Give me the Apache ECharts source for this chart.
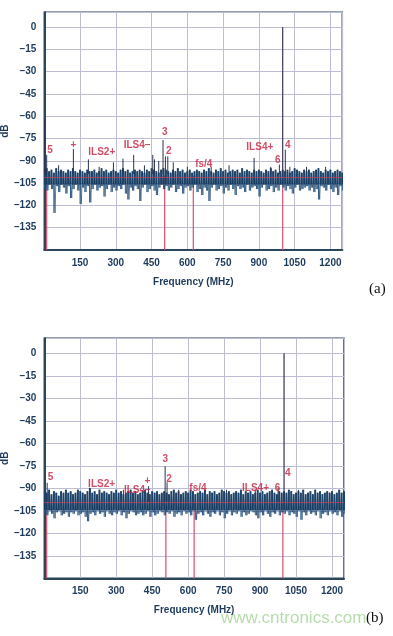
<!DOCTYPE html>
<html><head><meta charset="utf-8">
<script src="https://cdn.jsdelivr.net/npm/echarts@6/dist/echarts.min.js"></script>
<style>html,body{margin:0;padding:0;background:#fff}#c{width:393px;height:636px}</style>
</head><body><div id="c"></div>
<script>
// ---------- data ----------
var xTicks = [150, 300, 450, 600, 750, 900, 1050, 1200];
var yTicks = [0, -15, -30, -45, -60, -75, -90, -105, -120, -135];
var binWidthMHz = 10; // noise bins: 0,10,...,1250 MHz

// (a) noise floor: upper edge and lower edge of each 10 MHz bin (dB)
var noiseTopA = [
 -96,-95,-97,-96,-98,-95,-97,-96,-97,-98,
 -96,-97,-95,-97,-98,-96,-97,-98,-96,-97,
 -97,-96,-98,-97,-95,-97,-96,-98,-97,-96,
 -97,-98,-96,-95,-97,-96,-98,-97,-96,-97,
 -96,-97,-98,-96,-97,-95,-96,-97,-98,-96,
 -95,-96,-97,-98,-96,-97,-95,-97,-96,-98,
 -97,-96,-98,-97,-96,-97,-98,-96,-97,-95,
 -97,-98,-96,-97,-95,-97,-96,-98,-97,-96,
 -97,-96,-98,-95,-97,-96,-97,-98,-96,-97,
 -96,-97,-98,-96,-97,-95,-97,-96,-98,-97,
 -96,-97,-96,-98,-97,-95,-96,-97,-98,-96,
 -97,-96,-98,-97,-96,-95,-97,-98,-96,-97,
 -96,-98,-97,-96,-97,-98];
var noiseBotA = [
 -108,-110,-106,-109,-125,-107,-111,-106,-108,-112,
 -107,-115,-109,-106,-110,-119,-108,-111,-107,-118,
 -109,-106,-110,-108,-107,-114,-109,-106,-111,-108,
 -110,-107,-109,-106,-112,-116,-108,-110,-107,-109,
 -117,-108,-106,-111,-109,-107,-110,-113,-108,-106,
 -109,-107,-110,-108,-106,-111,-109,-107,-112,-108,
 -107,-110,-108,-106,-111,-109,-113,-108,-110,-117,
 -108,-106,-110,-109,-107,-112,-108,-110,-106,-109,
 -113,-107,-109,-108,-111,-106,-110,-108,-107,-109,
 -114,-108,-106,-110,-109,-107,-111,-108,-110,-106,
 -108,-110,-107,-109,-112,-108,-106,-110,-109,-108,
 -107,-110,-108,-111,-109,-116,-107,-108,-110,-106,
 -109,-111,-108,-113,-107,-110];
var coreBottomA = -106; // lower edge of the dark dense core
// (a) spurs: [MHz, peak dB]
var spursA = [[1,-62],[10,-86],[60,-93],[122,-82],[185,-89],[230,-94],[290,-91],[330,-88.5],
 [375,-86],[420,-93],[455,-86],[462,-89],[480,-90],[498,-76],[508,-87],[518,-87],[541,-91],
 [600,-94],[700,-94],[775,-93],[880,-88],[950,-94],[986,-92.5],[1011,-82.5],[1030,-94],
 [1100,-94],[1180,-94]];
var redMarksA = [10, 505, 625, 1000];
var floorLineA = -101;

// (b) noise floor
var noiseTopB = [
 -92,-93,-91,-94,-92,-93,-95,-92,-93,-91,
 -93,-92,-94,-93,-91,-92,-93,-94,-92,-90,
 -93,-92,-94,-91,-93,-92,-93,-94,-92,-93,
 -91,-93,-92,-94,-93,-92,-91,-93,-92,-94,
 -93,-92,-91,-93,-94,-92,-93,-92,-94,-93,
 -92,-93,-94,-92,-91,-93,-92,-94,-93,-92,
 -93,-91,-92,-94,-93,-92,-93,-91,-94,-92,
 -93,-92,-94,-93,-91,-92,-93,-92,-94,-93,
 -92,-93,-91,-94,-92,-93,-92,-94,-93,-91,
 -93,-92,-94,-93,-92,-91,-93,-94,-92,-93,
 -92,-93,-91,-92,-94,-93,-92,-93,-91,-94,
 -93,-92,-94,-91,-93,-92,-94,-93,-92,-93,
 -92,-94,-93,-91,-93,-92];
var noiseBotB = [
 -106,-108,-105,-107,-110,-106,-105,-108,-107,-106,
 -109,-106,-107,-105,-108,-107,-106,-109,-112,-107,
 -106,-108,-105,-107,-106,-109,-105,-107,-108,-106,
 -107,-105,-108,-106,-110,-107,-105,-106,-108,-107,
 -106,-108,-107,-105,-109,-106,-108,-107,-105,-106,
 -108,-106,-107,-105,-109,-107,-106,-108,-105,-107,
 -106,-108,-105,-111,-107,-106,-108,-105,-107,-109,
 -106,-107,-105,-108,-106,-110,-107,-105,-108,-106,
 -107,-105,-109,-106,-108,-107,-105,-106,-108,-110,
 -106,-108,-105,-107,-109,-106,-107,-105,-108,-106,
 -107,-105,-108,-106,-107,-109,-105,-111,-106,-108,
 -105,-107,-106,-108,-105,-110,-107,-106,-108,-105,
 -107,-106,-108,-105,-109,-107];
var coreBottomB = -104.5;
var spursB = [[12,-86.4],[189,-89.7],[330,-91],[435,-88.6],[504,-75.3],[512,-86],[560,-91],
 [760,-91],[880,-91],[975,-90],[1060,-91]];
var redMarksB = [10, 507, 625, 995];
var floorLineB = -99;

var fundamental = [1000, 0];

// labels: [MHz, dB, text]
var labelsA = [[24,-83,'5'],[122,-79.2,'+'],[241,-84.1,'ILS2+'],[389,-79.8,'ILS4\u2013'],[505,-70.6,'3'],
 [522,-83.7,'2'],[669,-92.6,'fs/4'],[904,-80.7,'ILS4+'],[979,-89.7,'6'],[1021,-79.2,'4']];
var labelsB = [[26,-82.6,'5'],[239,-87,'ILS2+'],[388,-91.3,'ILS4\u2013'],[430,-85.3,'+'],[505,-70.8,'3'],
 [520,-84.2,'2'],[641,-89.7,'fs/4'],[881,-89.7,'ILS4+'],[973,-89.7,'6'],[1015,-79.7,'4']];

// ---------- chart ----------
var FONT = '"Liberation Sans", Arial, sans-serif';
var NAVY = '#1d3a5c';
var RED = '#c3203e';
var DARK = '#173a5f';
var MID = '#2f5e8c';

function noiseData(top, bot){
  var d = [];
  for (var i = 0; i < top.length; i++){
    d.push([i*binWidthMHz, top[i]]);
    d.push([i*binWidthMHz + binWidthMHz/2, bot[i]]);
  }
  return d;
}
function binData(top, bot, core){
  var d = [];
  for (var i = 0; i < top.length; i++) d.push([i*binWidthMHz, top[i], bot[i], core]);
  return d;
}
function segRender(color, width){
  return function(params, api){
    var p0 = api.coord([api.value(0), api.value(1)]);
    var p1 = api.coord([api.value(0), api.value(2)]);
    return {type:'line', shape:{x1:p0[0], y1:p0[1], x2:p1[0], y2:p1[1]},
      style:{stroke:color, lineWidth:width}};
  };
}
function binRender(params, api){
  var f = api.value(0), top = api.value(1), bot = api.value(2), core = api.value(3);
  var pt = api.coord([f, top]);
  var pc = api.coord([f, Math.max(bot, core)]);
  var pb = api.coord([f, bot]);
  var ch = [
    {type:'line', shape:{x1:pt[0], y1:pt[1], x2:pc[0], y2:pc[1]}, style:{stroke:DARK, lineWidth:1.9}}
  ];
  if (bot < core) ch.push({type:'line', shape:{x1:pc[0], y1:pc[1], x2:pb[0], y2:pb[1]},
      style:{stroke:MID, lineWidth:1}});
  return {type:'group', children:ch};
}
function fmtNum(v){ return v < 0 ? '\u2013' + Math.abs(v) : String(v); }

function axesFor(idx){
  var x = {
    type:'value', gridIndex:idx, min:0, max:1250, interval:150,
    name:'Frequency (MHz)', nameLocation:'middle', nameGap:27, nameMoveOverlap:false,
    nameTextStyle:{color:NAVY, fontFamily:FONT, fontWeight:'bold', fontSize:10},
    axisLine:{show:true, onZero:false, lineStyle:{color:'#2b4658', width:2}},
    axisTick:{show:false},
    axisLabel:{color:NAVY, fontFamily:FONT, fontWeight:'bold', fontSize:10, margin:8,
      formatter:function(v){ return xTicks.indexOf(v) >= 0 ? String(v) : ''; }},
    splitLine:{show:true, lineStyle:{color:'#bdbdd3', width:1}}
  };
  var y = {
    type:'value', gridIndex:idx, min:-150, max:10, interval:15,
    name:'dB', nameLocation:'middle', nameGap:34, nameRotate:90, nameMoveOverlap:false,
    nameTextStyle:{color:NAVY, fontFamily:FONT, fontWeight:'bold', fontSize:10},
    axisLine:{show:true, onZero:false, lineStyle:{color:'#2b4658', width:2}},
    axisTick:{show:false},
    axisLabel:{color:NAVY, fontFamily:FONT, fontWeight:'bold', fontSize:10, margin:8,
      formatter:function(v){ return yTicks.indexOf(v) >= 0 ? fmtNum(v) : ''; }},
    splitLine:{show:true, lineStyle:{color:'#bdbdd3', width:1}}
  };
  return [x, y];
}
function seriesFor(idx, top, bot, core, spurs, reds, floorLine, labels){
  return [
    {type:'custom', xAxisIndex:idx, yAxisIndex:idx, z:1, silent:true,
     renderItem:segRender('#d6506c', 1.2), encode:{x:0, y:[1,2]},
     data: reds.map(function(f){ return [f, -150, -100]; })},
    {type:'custom', xAxisIndex:idx, yAxisIndex:idx, z:2, silent:true, clip:true,
     renderItem:binRender, encode:{x:0, y:[1,2]}, data: binData(top, bot, core)},
    {type:'line', xAxisIndex:idx, yAxisIndex:idx, z:2, silent:true, symbol:'none',
     lineStyle:{width:0.7, color:'#21476e'}, data: noiseData(top, bot),
     markLine:{silent:true, symbol:'none', label:{show:false},
       lineStyle:{color:'#c0405e', width:1, type:'solid', opacity:0.8},
       data:[{yAxis: floorLine}]}},
    {type:'custom', xAxisIndex:idx, yAxisIndex:idx, z:3, silent:true,
     renderItem:segRender('#2a3552', 1), encode:{x:0, y:[1,2]},
     data: spurs.map(function(s){ return [s[0], -99, s[1]]; })},
    {type:'custom', xAxisIndex:idx, yAxisIndex:idx, z:3, silent:true,
     renderItem:segRender('#3a3358', 1.2), encode:{x:0, y:[1,2]},
     data: [[fundamental[0], -100, fundamental[1]]]},
    {type:'scatter', xAxisIndex:idx, yAxisIndex:idx, z:6, silent:true, symbolSize:1,
     itemStyle:{color:'rgba(0,0,0,0)'},
     label:{show:true, position:'inside', color:RED, fontFamily:FONT, fontWeight:'bold', fontSize:10,
       formatter:function(p){ return p.data.name; }},
     data: labels.map(function(l){ return {name:l[2], value:[l[0], l[1]]}; })}
  ];
}

var chart = echarts.init(document.getElementById('c'), null, {renderer:'canvas'});
var axA = axesFor(0), axB = axesFor(1);
chart.setOption({
  animation:false,
  backgroundColor:'#ffffff',
  grid:[
    {left:44.3, top:12.3, width:298, height:237.7, show:true, borderColor:'#2b4658', borderWidth:1.5,
     containLabel:false, outerBoundsMode:'none'},
    {left:44.3, top:338.3, width:299.7, height:240, show:true, borderColor:'#2b4658', borderWidth:1.5,
     containLabel:false, outerBoundsMode:'none'}
  ],
  xAxis:[axA[0], axB[0]],
  yAxis:[axA[1], axB[1]],
  series: [].concat(
    seriesFor(0, noiseTopA, noiseBotA, coreBottomA, spursA, redMarksA, floorLineA, labelsA),
    seriesFor(1, noiseTopB, noiseBotB, coreBottomB, spursB, redMarksB, floorLineB, labelsB)
  ),
  graphic:[
    {type:'text', left:221, top:610, z:0, style:{text:'www.cntronics.com', fill:'#b7dcae',
      font:'17px "Liberation Sans", Arial, sans-serif'}},
    {type:'text', left:369, top:282, style:{text:'(a)', fill:'#111',
      font:'15px "Liberation Serif", "Times New Roman", serif'}},
    {type:'text', left:366, top:611, z:10, style:{text:'(b)', fill:'#111',
      font:'15px "Liberation Serif", "Times New Roman", serif'}}
  ]
});
</script></body></html>
